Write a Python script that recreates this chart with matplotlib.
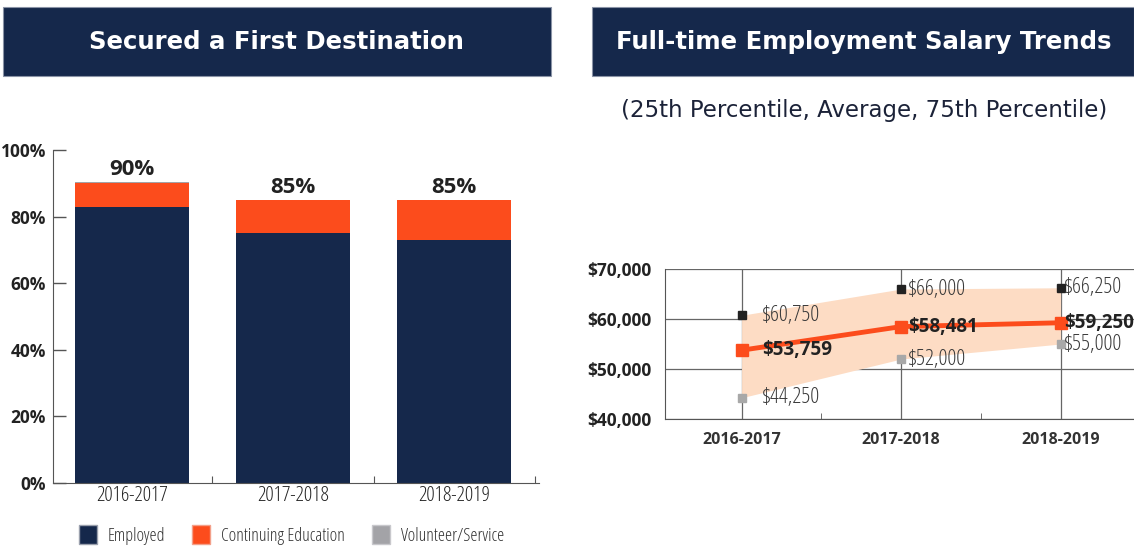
import matplotlib.pyplot as plt
from matplotlib.patches import Rectangle, Patch

NAVY = "#15284b"
ORANGE = "#fc4c1c"
GREY = "#a3a3a7"
PEACH = "#fddcc4"

COND = dict(family=["Open Sans", "DejaVu Sans"], stretch="condensed")
HEAD = ["DejaVu Sans"]

# data
years = ["2016-2017", "2017-2018", "2018-2019"]
employed = [83, 75, 73]
cont_edu = [7, 10, 12]
volunteer = [0.3, 0, 0]
totals = ["90%", "85%", "85%"]

sal_p25 = [44250, 52000, 55000]
sal_avg = [53759, 58481, 59250]
sal_p75 = [60750, 66000, 66250]

# label gap right of each marker (first column sits a bit further out)
lab_gap = [0.13, 0.045, 0.02]

fig = plt.figure(figsize=(11.34, 5.46), dpi=100)

# title boxes
for x0, w, cx, txt in [(0.0026, 0.4832, 0.244, "Secured a First Destination"),
                       (0.522, 0.478, 0.762, "Full-time Employment Salary Trends")]:
    fig.patches.append(Rectangle((x0, 0.8608), w, 0.1264, transform=fig.transFigure,
                                 facecolor=NAVY, edgecolor="#8a93a6", lw=0.8))
    fig.text(cx, 0.923, txt, ha="center", va="center", color="white",
             fontsize=17.6, fontweight="bold", family=HEAD)

fig.text(0.762, 0.797, "(25th Percentile, Average, 75th Percentile)", ha="center",
         va="center", color="#1b2238", fontsize=16.5, family=HEAD)

# ---- left: stacked bars
ax = fig.add_axes([0.0467, 0.1154, 0.429, 0.61])
x = range(len(years))
bw = 0.71
ax.bar(x, employed, bw, color=NAVY)
ax.bar(x, cont_edu, bw, bottom=employed, color=ORANGE)
ax.bar(x, volunteer, bw, bottom=[e + c for e, c in zip(employed, cont_edu)], color=GREY)
for i, t in enumerate(totals):
    top = employed[i] + cont_edu[i] + volunteer[i]
    ax.text(i, top + 0.6, t, ha="center", va="bottom", fontsize=16,
            fontweight="bold", color="#222222", **COND)

ax.set_xlim(-0.49, 2.53)
ax.set_ylim(0, 100)
ax.set_yticks(range(0, 101, 20))
ax.set_yticklabels([f"{v}%" for v in range(0, 101, 20)], fontsize=12.5,
                   fontweight="bold", color="#222222", **COND)
ax.tick_params(axis="y", direction="in", length=9, width=1, color="#555555", pad=5)
ax.set_xticks([0.5, 1.5, 2.5])
ax.set_xticklabels([])
ax.set_xticks(list(x), minor=True)
ax.set_xticklabels(years, minor=True, fontsize=15, color="#222222", **COND)
ax.tick_params(axis="x", which="major", direction="in", length=5, color="#555555")
ax.tick_params(axis="x", which="minor", length=0, pad=2)
for s in ["top", "right"]:
    ax.spines[s].set_visible(False)
for s in ["left", "bottom"]:
    ax.spines[s].set_color("#555555")

handles = [Patch(facecolor=NAVY, edgecolor="#9aa0ad", label="Employed"),
           Patch(facecolor=ORANGE, edgecolor="#f3a08a", label="Continuing Education"),
           Patch(facecolor=GREY, edgecolor="#c8c8cc", label="Volunteer/Service")]
leg = fig.legend(handles=handles, loc="center", bbox_to_anchor=(0.257, 0.02), ncol=3,
                 frameon=False, handlelength=1.0, handleheight=1.2, columnspacing=1.5,
                 handletextpad=0.6, prop=dict(size=13, **COND))
for t in leg.get_texts():
    t.set_color("#333333")

# ---- right: salary trends
ax2 = fig.add_axes([0.5864, 0.2326, 0.4136, 0.2747])
ax2.fill_between(x, sal_p25, sal_p75, color=PEACH, lw=0, zorder=1)
ax2.plot(x, sal_avg, color=ORANGE, lw=3.5, marker="s", ms=8, zorder=4)
ax2.plot(x, sal_p75, ls="none", marker="s", ms=5.5, color="#222222", zorder=4)
ax2.plot(x, sal_p25, ls="none", marker="s", ms=5.5, color="#a8a8a8", zorder=4)
for i in x:
    g = lab_gap[i]
    ax2.text(i + g, sal_p75[i], f"${sal_p75[i]:,}", va="center", ha="left",
             fontsize=16, color="#3a3a3a", zorder=5, **COND)
    ax2.text(i + g, sal_p25[i], f"${sal_p25[i]:,}", va="center", ha="left",
             fontsize=16, color="#3a3a3a", zorder=5, **COND)
    ax2.text(i + g, sal_avg[i], f"${sal_avg[i]:,}", va="center", ha="left",
             fontsize=13.5, fontweight="bold", color="#222222", zorder=5, **COND)

ax2.set_xlim(-0.48, 2.46)
ax2.set_ylim(40000, 70000)
ax2.set_yticks([40000, 50000, 60000, 70000])
ax2.set_yticklabels([f"${v:,}" for v in [40000, 50000, 60000, 70000]], fontsize=12.5,
                    fontweight="bold", color="#222222", **COND)
ax2.tick_params(axis="y", length=0, pad=10)
ax2.set_xticks(list(x))
ax2.set_xticklabels(years, fontsize=11.5, fontweight="bold", color="#333333", **COND)
ax2.tick_params(axis="x", length=0, pad=9)
ax2.set_xticks([0.5, 1.5], minor=True)
ax2.tick_params(axis="x", which="minor", direction="in", length=4, color="#555555")
ax2.grid(True, which="major", color="#666666", lw=0.9, zorder=0)
ax2.set_axisbelow(True)
for s in ["top", "right"]:
    ax2.spines[s].set_visible(False)
for s in ["left", "bottom"]:
    ax2.spines[s].set_color("#555555")

fig.savefig("out.png", dpi=100)
